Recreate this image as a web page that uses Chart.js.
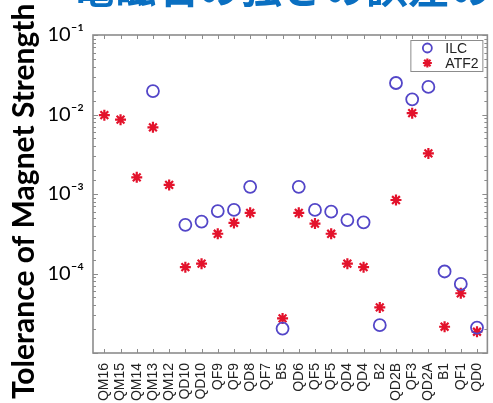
<!DOCTYPE html>
<html>
<head>
<meta charset="utf-8">
<script src="https://cdn.jsdelivr.net/npm/chart.js@4.4.1/dist/chart.umd.min.js"></script>
<style>
  html, body { margin: 0; padding: 0; background: #fff; overflow: hidden; }
  #wrap { position: relative; width: 493px; height: 403px; overflow: hidden; }
  #tolChart { position: absolute; left: 0; top: 0; }
  #headline {
    position: absolute; left: 72px; top: -36px;
    font: bold 42px 'Noto Sans CJK JP', sans-serif; line-height: 42px;
    color: #0a6fc1; white-space: nowrap;
  }
</style>
</head>
<body>
<div id="wrap">
  <canvas id="tolChart" width="496" height="403"></canvas>
  <div id="headline">電磁石の強さの誤差の</div>
</div>
<script>
// --- DATA ---
const magnets = ['QM16','QM15','QM14','QM13','QM12','QD10','QD10','QF9','QF9','QD8','QF7','B5',
                 'QD6','QF5','QF5','QD4','QD4','B2','QD2B','QF3','QD2A','B1','QF1','QD0'];

const ilcTol = [null, null, null, 1.97e-2, null, 4.1e-4, 4.5e-4, 6.1e-4, 6.3e-4, 1.23e-3, null, 2.03e-5,
                1.23e-3, 6.3e-4, 6.0e-4, 4.7e-4, 4.4e-4, 2.24e-5, 2.49e-2, 1.55e-2, 2.22e-2, 1.06e-4, 7.4e-5, 2.09e-5];

const atf2Tol = [9.8e-3, 8.6e-3, 1.62e-3, 6.9e-3, 1.3e-3, 1.2e-4, 1.33e-4, 3.16e-4, 4.33e-4, 5.8e-4, null, 2.72e-5,
                 5.8e-4, 4.25e-4, 3.16e-4, 1.33e-4, 1.2e-4, 3.74e-5, 8.4e-4, 1.04e-2, 3.24e-3, 2.14e-5, 5.64e-5, 1.85e-5];

const yLabelPowers = [-1, -2, -3, -4];

const SUP = { '-': '⁻', '0': '⁰', '1': '¹', '2': '²', '3': '³', '4': '⁴', '5': '⁵', '6': '⁶', '7': '⁷', '8': '⁸', '9': '⁹' };
const toSup = s => String(s).split('').map(c => SUP[c] || c).join('');

function toPoints(arr) {
  return arr.map((v, i) => ({ x: i, y: v }));
}

function isDecade(v) {
  const l = Math.log10(v);
  return Math.abs(l - Math.round(l)) < 1e-9;
}

// --- frame + inward ticks (MATLAB style box) ---
const frameTicks = {
  id: 'frameTicks',
  beforeDatasetsDraw(chart) {
    const { ctx, chartArea: a, scales: { x, y } } = chart;
    ctx.save();
    ctx.strokeStyle = '#8c8c8c';
    ctx.lineWidth = 1;
    ctx.beginPath();
    x.ticks.forEach(t => {
      const px = Math.round(x.getPixelForValue(t.value)) + 0.5;
      ctx.moveTo(px, a.top); ctx.lineTo(px, a.top + 4);
      ctx.moveTo(px, a.bottom); ctx.lineTo(px, a.bottom - 4);
    });
    y.ticks.forEach(t => {
      const py = Math.round(y.getPixelForValue(t.value)) + 0.5;
      const len = isDecade(t.value) ? 5 : 3;
      ctx.moveTo(a.left, py); ctx.lineTo(a.left + len, py);
      ctx.moveTo(a.right, py); ctx.lineTo(a.right - len, py);
    });
    ctx.stroke();
    ctx.lineWidth = 1.6;
    ctx.strokeRect(a.left, a.top, a.right - a.left, a.bottom - a.top);
    ctx.restore();
  }
};

// --- legend box inside the plot, top-right ---
const boxLegend = {
  id: 'boxLegend',
  afterDraw(chart) {
    const { ctx, chartArea: a } = chart;
    const bx = a.right - 77, by = a.top + 5, bw = 72, bh = 31;
    ctx.save();
    ctx.fillStyle = '#fff';
    ctx.fillRect(bx, by, bw, bh);
    ctx.strokeStyle = '#8c8c8c';
    ctx.lineWidth = 1;
    ctx.strokeRect(bx + 0.5, by + 0.5, bw, bh);
    ctx.font = '14px "Liberation Sans", Arial, sans-serif';
    ctx.textBaseline = 'middle';
    ctx.fillStyle = '#222';
    chart.data.datasets.forEach((ds, i) => {
      const mx = bx + 17, my = by + 8 + i * 15;
      ctx.strokeStyle = ds.borderColor;
      ctx.lineWidth = ds.borderWidth;
      ctx.beginPath();
      if (ds.pointStyle === 'circle') {
        ctx.arc(mx, my, 4.5, 0, Math.PI * 2);
      } else {
        for (let k = 0; k < 4; k++) {
          const ang = k * Math.PI / 4;
          ctx.moveTo(mx - 4.5 * Math.cos(ang), my - 4.5 * Math.sin(ang));
          ctx.lineTo(mx + 4.5 * Math.cos(ang), my + 4.5 * Math.sin(ang));
        }
      }
      ctx.stroke();
      ctx.fillText(ds.label, bx + 35, my + 1);
    });
    ctx.restore();
  }
};

const ctx = document.getElementById('tolChart').getContext('2d');
new Chart(ctx, {
  type: 'scatter',
  data: {
    datasets: [
      {
        label: 'ILC',
        data: toPoints(ilcTol),
        pointStyle: 'circle',
        pointRadius: 6,
        borderWidth: 1.8,
        borderColor: '#5346c8',
        backgroundColor: 'rgba(0,0,0,0)'
      },
      {
        label: 'ATF2',
        data: toPoints(atf2Tol),
        pointStyle: 'star',
        pointRadius: 5.5,
        borderWidth: 2.2,
        borderColor: '#e3122b',
        backgroundColor: '#e3122b'
      }
    ]
  },
  options: {
    responsive: false,
    animation: false,
    devicePixelRatio: 1,
    layout: { padding: { top: 35, right: 1, bottom: 0, left: 0 } },
    plugins: {
      legend: { display: false },
      tooltip: { enabled: false }
    },
    scales: {
      x: {
        type: 'linear',
        min: -0.7,
        max: 23.64,
        grid: { display: false },
        border: { display: false },
        afterBuildTicks: scale => { scale.ticks = magnets.map((m, i) => ({ value: i })); },
        afterFit: scale => { scale.height = 50; },
        ticks: {
          autoSkip: false,
          minRotation: 90,
          maxRotation: 90,
          padding: 2,
          color: '#222',
          font: { family: '"Liberation Sans", Arial, sans-serif', size: 14 },
          callback: v => magnets[v]
        }
      },
      y: {
        type: 'logarithmic',
        min: 1e-5,
        max: 1e-1,
        grid: { display: false },
        border: { display: false },
        afterFit: scale => { scale.width = 93; },
        ticks: {
          autoSkip: false,
          padding: 1,
          color: '#000',
          font: { family: 'Lato, sans-serif', size: 20 },
          callback: v => {
            if (!isDecade(v)) return '';
            const p = Math.round(Math.log10(v));
            return yLabelPowers.includes(p) ? '10' + toSup('-' + Math.abs(p)) : '';
          }
        },
        title: {
          display: true,
          text: 'Tolerance of Magnet Strength  ',
          color: '#000',
          font: { family: 'Lato, sans-serif', size: 30, weight: 'bold' },
          padding: { top: 6, bottom: 0 }
        }
      }
    }
  },
  plugins: [frameTicks, boxLegend]
});
</script>
</body>
</html>
